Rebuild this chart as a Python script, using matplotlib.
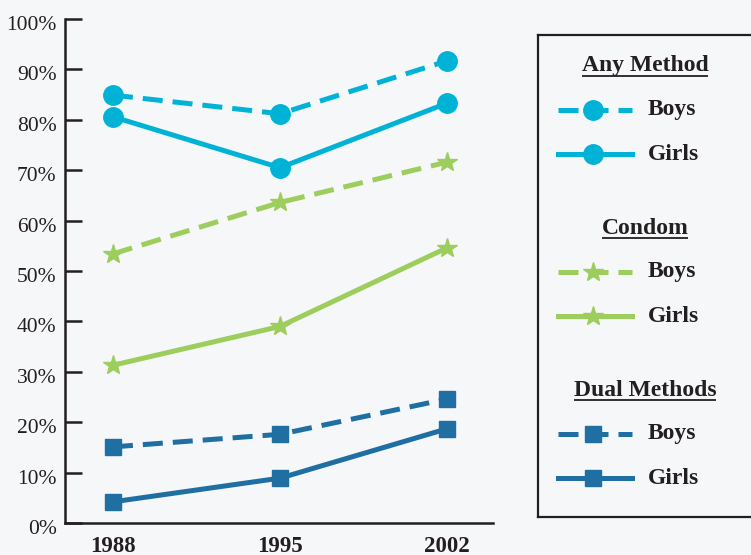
import matplotlib
matplotlib.use("Agg")
import matplotlib.pyplot as plt
from matplotlib.transforms import ScaledTranslation

# ---- data (percent of sexually active teens using each method) ----
years = ["1988", "1995", "2002"]
any_boys = [84.9, 81.2, 91.7]
any_girls = [80.6, 70.5, 83.3]
condom_boys = [53.4, 63.6, 71.6]
condom_girls = [31.3, 39.0, 54.6]
dual_boys = [15.1, 17.6, 24.6]
dual_girls = [4.2, 8.9, 18.7]
y_ticks = [0, 10, 20, 30, 40, 50, 60, 70, 80, 90, 100]
y_labels = [f"{v}%" for v in y_ticks]

groups = [
    ("Any Method", any_boys, any_girls, "o", 14),
    ("Condom", condom_boys, condom_girls, "*", 15),
    ("Dual Methods", dual_boys, dual_girls, "s", 11),
]
colors = {"Any Method": "#00b3d6", "Condom": "#9ccd5d", "Dual Methods": "#1f6fa3"}

BG = "#f6f7f9"
INK = "#231f20"
SERIF = "Liberation Serif"
LW = 3.6
DASH = (4, 2)

W, H = 751, 555
fig = plt.figure(figsize=(W / 100, H / 100), dpi=100, facecolor=BG)


def px_axes(x0, y0, x1, y1):
    """Axes positioned by pixel box (top-left origin)."""
    return fig.add_axes([x0 / W, 1 - y1 / H, (x1 - x0) / W, (y1 - y0) / H])


ax = px_axes(65, 19, 493, 523)
ax.set_facecolor(BG)
x = list(range(len(years)))

for name, boys, girls, mk, ms in groups:
    c = colors[name]
    ax.plot(x, boys, color=c, lw=LW, dashes=DASH, marker=mk, ms=ms,
            mec=c, mfc=c, clip_on=False, zorder=3)
    ax.plot(x, girls, color=c, lw=LW, marker=mk, ms=ms,
            mec=c, mfc=c, clip_on=False, zorder=3)

ax.set_xlim(-0.287, 2.275)
ax.set_ylim(0, 100)
ax.set_xticks(x)
ax.set_xticklabels(years, fontfamily=SERIF, fontsize=16.5, fontweight="bold", color=INK)
ax.set_yticks(y_ticks)
ax.set_yticklabels(y_labels, fontfamily=SERIF, fontsize=15.5, color=INK)
ax.tick_params(axis="x", length=0, pad=9)
ax.tick_params(axis="y", direction="in", length=12, width=1.8, color=INK, pad=6)
for lab in ax.get_yticklabels():
    lab.set_transform(lab.get_transform() + ScaledTranslation(0, -4 / 100, fig.dpi_scale_trans))
for side in ("top", "right"):
    ax.spines[side].set_visible(False)
for side in ("left", "bottom"):
    ax.spines[side].set_linewidth(1.8)
    ax.spines[side].set_color(INK)

# ---- key panel, laid out in pixel units ----
lx0, ly0, lx1, ly1 = 538, 35, 770, 517
lg = px_axes(lx0, ly0, lx1, ly1)
lg.set_facecolor(BG)
lg.set_xlim(lx0, lx1)
lg.set_ylim(ly1, ly0)
lg.set_xticks([])
lg.set_yticks([])
lg.spines["right"].set_visible(False)
for side in ("left", "top", "bottom"):
    lg.spines[side].set_linewidth(1.6)
    lg.spines[side].set_color(INK)

title_rows = [66, 228, 390]
row_offsets = [44, 88]
titles = []
for (name, _, _, mk, ms), ty in zip(groups, title_rows):
    c = colors[name]
    t = lg.text(645, ty, name, ha="center", va="center", fontfamily=SERIF,
                fontsize=17, fontweight="bold", color=INK)
    titles.append(t)
    for label, dy, dashed in (("Boys", row_offsets[0], True), ("Girls", row_offsets[1], False)):
        yy = ty + dy
        kw = dict(dashes=DASH) if dashed else {}
        lg.plot([558, 632], [yy, yy], color=c, lw=LW, **kw)
        lg.plot([593], [yy], marker=mk, ms=ms, color=c, mec=c)
        lg.text(648, yy, label, ha="left", va="center", fontfamily=SERIF,
                fontsize=17, fontweight="bold", color=INK)

# underline the group headings
fig.canvas.draw()
renderer = fig.canvas.get_renderer()
inv = lg.transData.inverted()
for t in titles:
    bb = t.get_window_extent(renderer)
    (x0, yb), (x1, _) = inv.transform([(bb.x0, bb.y0), (bb.x1, bb.y1)])
    lg.plot([x0, x1], [yb - 1, yb - 1], color=INK, lw=1.3, solid_capstyle="butt")

fig.savefig("out.png", dpi=100, facecolor=BG)
